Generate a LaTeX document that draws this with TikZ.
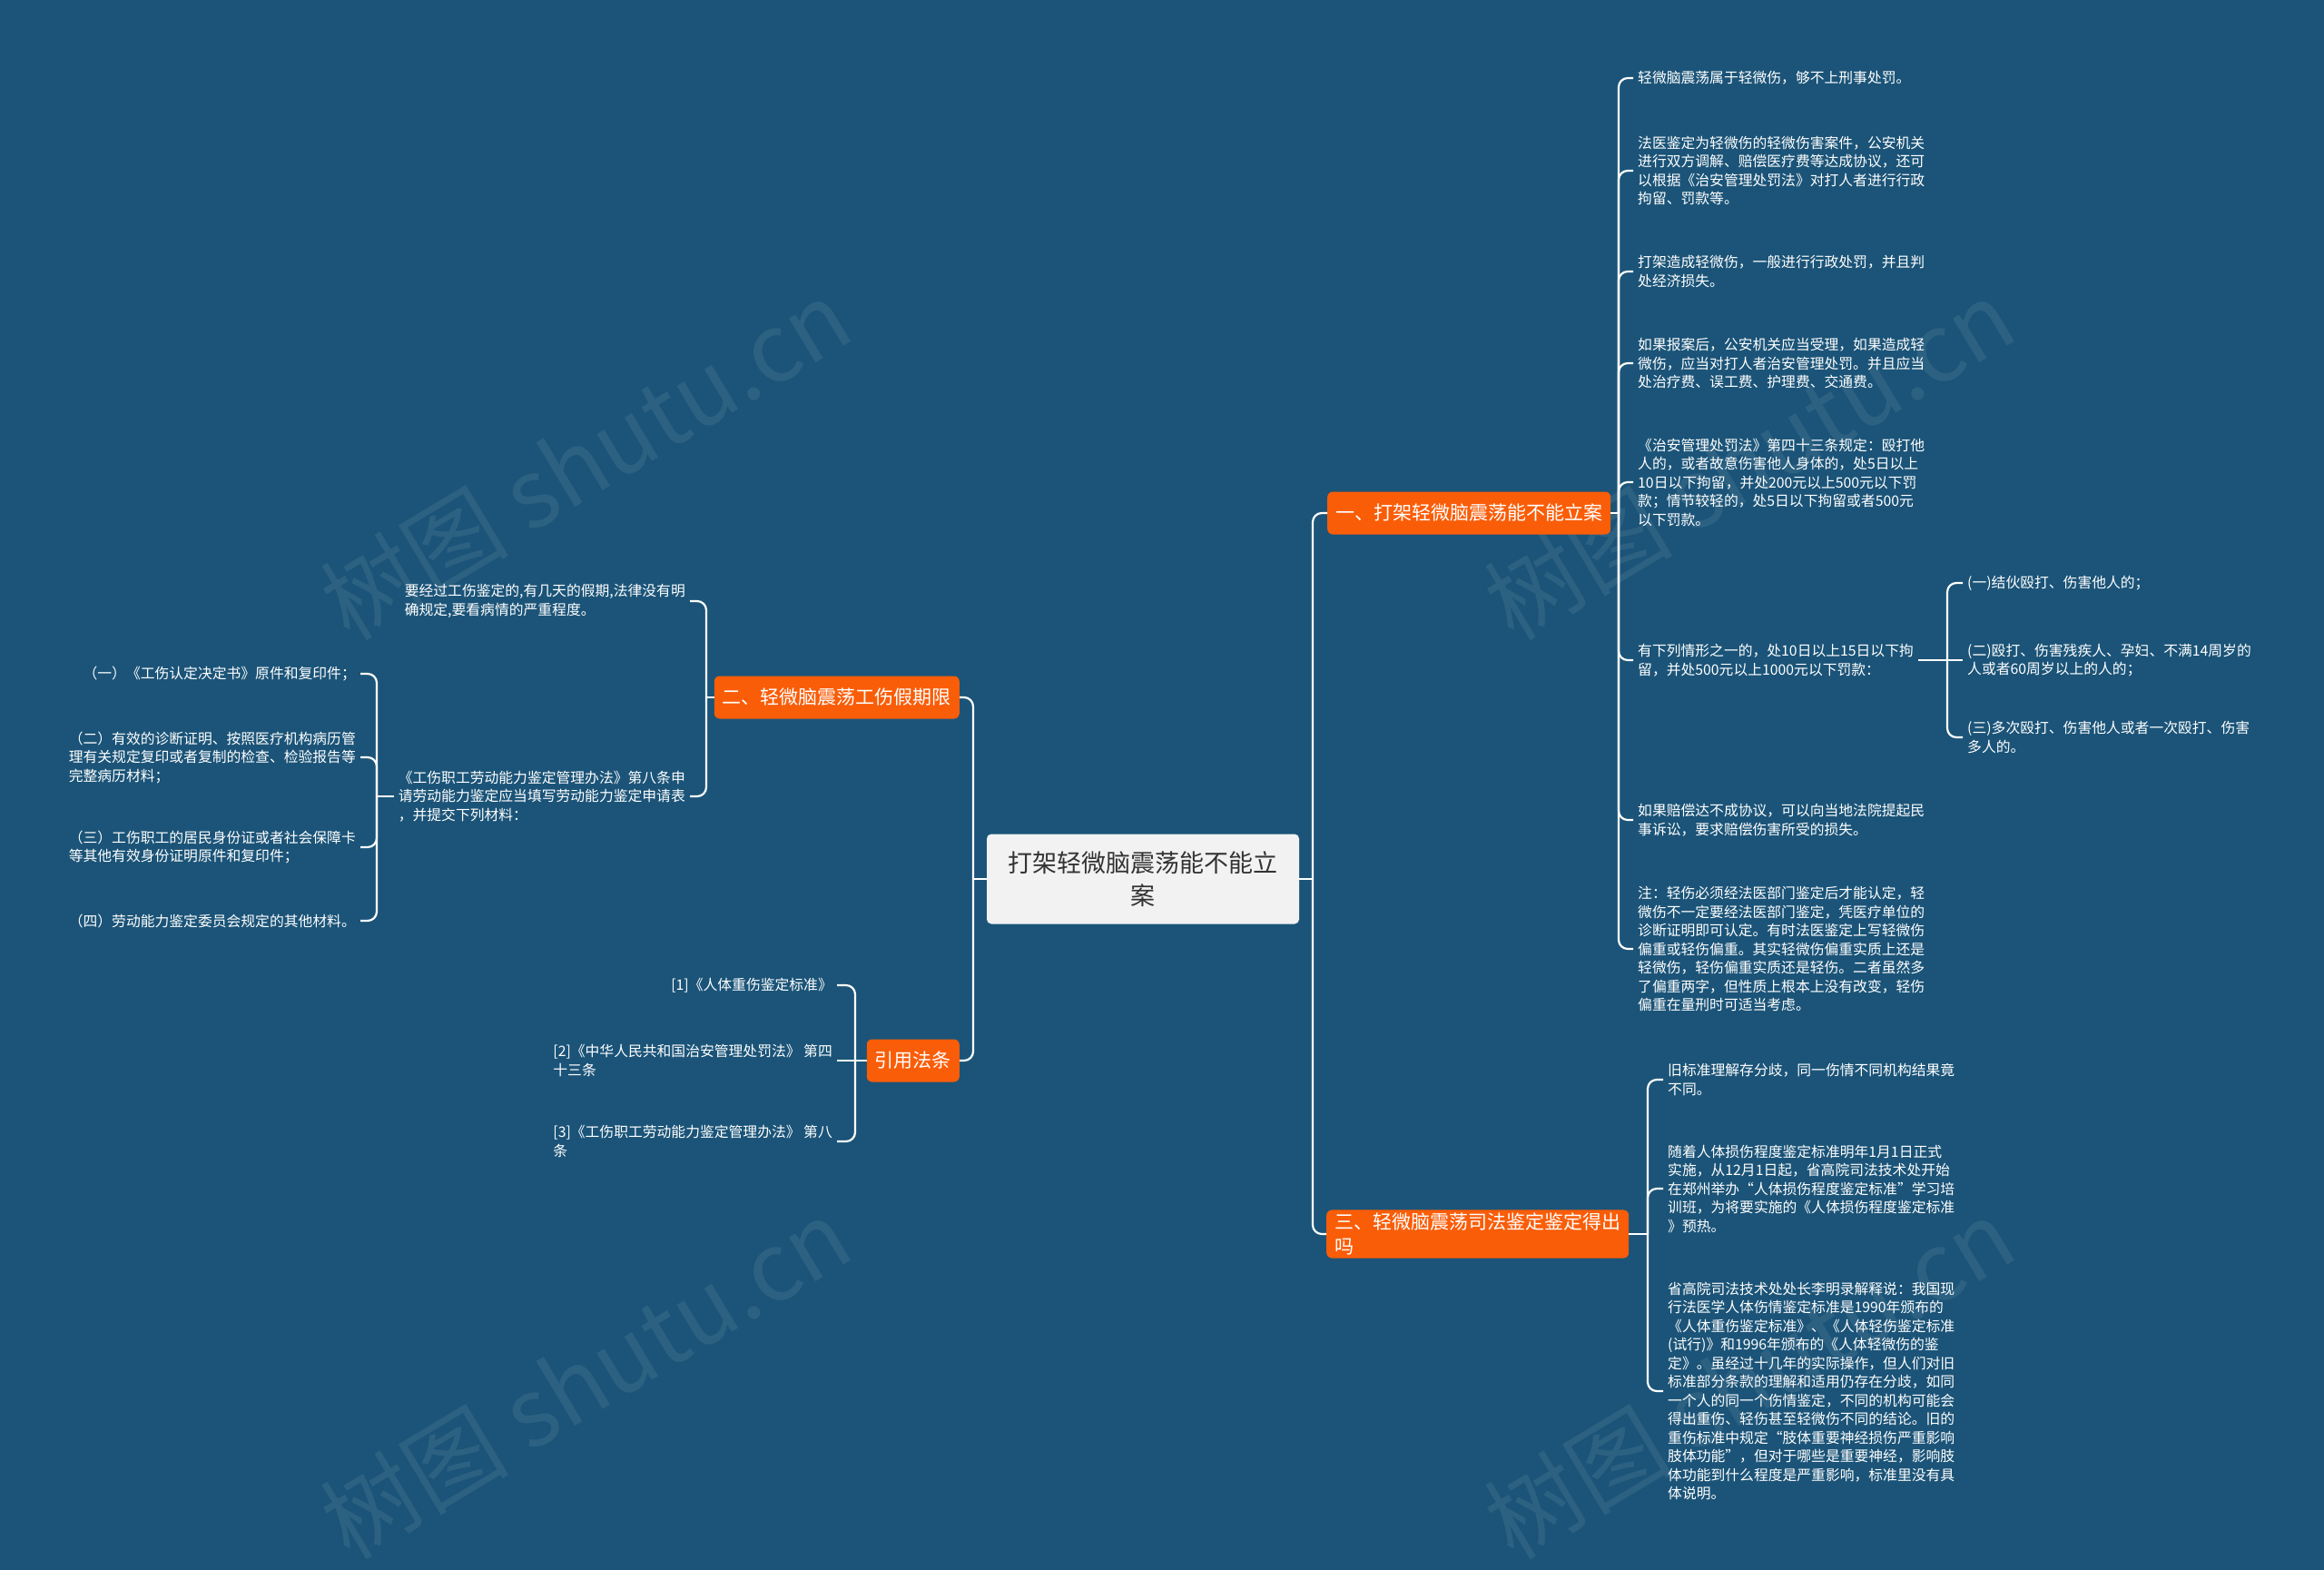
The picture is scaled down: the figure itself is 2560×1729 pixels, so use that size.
\documentclass[tikz,border=0pt]{standalone}
\usepackage{fontspec}
\setmainfont{Noto Sans CJK SC}
\usepackage{xcolor}
\usepackage{tikz}

\definecolor{bgblue}{RGB}{27,84,120}
\definecolor{branchorange}{RGB}{250,93,8}
\definecolor{rootgray}{RGB}{242,242,242}
\definecolor{textdark}{RGB}{51,51,51}

\begin{document}
\begin{tikzpicture}[
  x=1pt,y=-1pt,
  root/.style={fill=rootgray,rounded corners=5pt,align=center,text=textdark,minimum width=344pt,minimum height=99pt,font=\fontsize{27}{36}\selectfont},
  branch/.style={fill=branchorange,rounded corners=6pt,text=white,align=left,inner xsep=9pt,minimum height=47pt,font=\fontsize{21}{27}\selectfont},
  leaf/.style={text=white,align=left,inner xsep=5pt,inner ysep=2pt,font=\fontsize{15.8}{20.5}\selectfont},
  wire/.style={draw=white,line width=2.2pt,rounded corners=10pt},
  mark text/.style={rotate=31,text=white,opacity=0.08,font=\fontsize{104}{104}\selectfont}
]
\useasboundingbox[fill=bgblue] (0,0) rectangle (2560,1729);

% watermarks
\node[mark text] (wm1) at (645,506) {树图 shutu.cn};
\node[mark text] (wm2) at (1927,506) {树图 shutu.cn};
\node[mark text] (wm3) at (645,1518) {树图 shutu.cn};
\node[mark text] (wm4) at (1927,1518) {树图 shutu.cn};

% root and branches
\node[root] (root) at (1259,968) {打架轻微脑震荡能不能立\\案};
\node[branch,anchor=west] (br1) at (1462,565) {一、打架轻微脑震荡能不能立案};
\node[branch,anchor=east] (br2) at (1057,768) {二、轻微脑震荡工伤假期限};
\node[branch,anchor=west] (br3) at (1461,1359) {三、轻微脑震荡司法鉴定鉴定得出\\吗};
\node[branch,anchor=east] (br4) at (1057,1168) {引用法条};

% branch one
\node[leaf,anchor=west] (l1) at (1799,86) {轻微脑震荡属于轻微伤，够不上刑事处罚。};
\node[leaf,anchor=west] (l2) at (1799,188) {法医鉴定为轻微伤的轻微伤害案件，公安机关\\进行双方调解、赔偿医疗费等达成协议，还可\\以根据《治安管理处罚法》对打人者进行行政\\拘留、罚款等。};
\node[leaf,anchor=west] (l3) at (1799,299) {打架造成轻微伤，一般进行行政处罚，并且判\\处经济损失。};
\node[leaf,anchor=west] (l4) at (1799,400) {如果报案后，公安机关应当受理，如果造成轻\\微伤，应当对打人者治安管理处罚。并且应当\\处治疗费、误工费、护理费、交通费。};
\node[leaf,anchor=west] (l5) at (1799,531) {《治安管理处罚法》第四十三条规定：殴打他\\人的，或者故意伤害他人身体的，处5日以上\\10日以下拘留，并处200元以上500元以下罚\\款；情节较轻的，处5日以下拘留或者500元\\以下罚款。};
\node[leaf,anchor=west] (l6) at (1799,727) {有下列情形之一的，处10日以上15日以下拘\\留，并处500元以上1000元以下罚款：};
\node[leaf,anchor=west] (l7) at (1799,903) {如果赔偿达不成协议，可以向当地法院提起民\\事诉讼，要求赔偿伤害所受的损失。};
\node[leaf,anchor=west] (l8) at (1799,1045) {注：轻伤必须经法医部门鉴定后才能认定，轻\\微伤不一定要经法医部门鉴定，凭医疗单位的\\诊断证明即可认定。有时法医鉴定上写轻微伤\\偏重或轻伤偏重。其实轻微伤偏重实质上还是\\轻微伤，轻伤偏重实质还是轻伤。二者虽然多\\了偏重两字，但性质上根本上没有改变，轻伤\\偏重在量刑时可适当考虑。};
\node[leaf,anchor=west] (s1) at (2162,642) {(一)结伙殴打、伤害他人的；};
\node[leaf,anchor=west] (s2) at (2162,727) {(二)殴打、伤害残疾人、孕妇、不满14周岁的\\人或者60周岁以上的人的；};
\node[leaf,anchor=west] (s3) at (2162,812) {(三)多次殴打、伤害他人或者一次殴打、伤害\\多人的。};

% branch two
\node[leaf,anchor=east] (a1) at (760,662) {要经过工伤鉴定的,有几天的假期,法律没有明\\确规定,要看病情的严重程度。};
\node[leaf,anchor=east] (a2) at (760,877) {《工伤职工劳动能力鉴定管理办法》第八条申\\请劳动能力鉴定应当填写劳动能力鉴定申请表\\，并提交下列材料：};
\node[leaf,anchor=east] (m1) at (397,742) {（一）《工伤认定决定书》原件和复印件；};
\node[leaf,anchor=east] (m2) at (397,834) {（二）有效的诊断证明、按照医疗机构病历管\\理有关规定复印或者复制的检查、检验报告等\\完整病历材料；};
\node[leaf,anchor=east] (m3) at (397,933) {（三）工伤职工的居民身份证或者社会保障卡\\等其他有效身份证明原件和复印件；};
\node[leaf,anchor=east] (m4) at (397,1014) {（四）劳动能力鉴定委员会规定的其他材料。};

% branch three
\node[leaf,anchor=west] (t1) at (1832,1189) {旧标准理解存分歧，同一伤情不同机构结果竟\\不同。};
\node[leaf,anchor=west] (t2) at (1832,1309) {随着人体损伤程度鉴定标准明年1月1日正式\\实施，从12月1日起，省高院司法技术处开始\\在郑州举办“人体损伤程度鉴定标准”学习培\\训班，为将要实施的《人体损伤程度鉴定标准\\》预热。};
\node[leaf,anchor=west] (t3) at (1832,1532) {省高院司法技术处处长李明录解释说：我国现\\行法医学人体伤情鉴定标准是1990年颁布的\\《人体重伤鉴定标准》、《人体轻伤鉴定标准\\(试行)》和1996年颁布的《人体轻微伤的鉴\\定》。虽经过十几年的实际操作，但人们对旧\\标准部分条款的理解和适用仍存在分歧，如同\\一个人的同一个伤情鉴定，不同的机构可能会\\得出重伤、轻伤甚至轻微伤不同的结论。旧的\\重伤标准中规定“肢体重要神经损伤严重影响\\肢体功能”，但对于哪些是重要神经，影响肢\\体功能到什么程度是严重影响，标准里没有具\\体说明。};

% references
\node[leaf,anchor=east] (r1) at (922,1085) {[1]《人体重伤鉴定标准》};
\node[leaf,anchor=east] (r2) at (922,1168) {[2]《中华人民共和国治安管理处罚法》 第四\\十三条};
\node[leaf,anchor=east] (r3) at (922,1257) {[3]《工伤职工劳动能力鉴定管理办法》 第八\\条};

% junctions
\coordinate (jl) at (1072,968);
\coordinate (jr) at (1446,968);
\coordinate (j1) at (1783,565);
\coordinate (j6) at (2145,727);
\coordinate (j2) at (778,768);
\coordinate (ja) at (415,877);
\coordinate (j3) at (1815,1359);
\coordinate (j4) at (942,1168);

% connectors
\draw[wire] (root.west) -- (jl);
\draw[wire] (jl) |- (br2.east);
\draw[wire] (jl) |- (br4.east);
\draw[wire] (root.east) -- (jr);
\draw[wire] (jr) |- (br1.west);
\draw[wire] (jr) |- (br3.west);

\draw[wire] (br1.east) -- (j1);
\foreach \leafname in {l1,l2,l3,l4,l5,l6,l7,l8}
  \draw[wire] (j1) |- (\leafname.west);
\draw[wire] (l6.east) -- (j6);
\draw[wire] (j6) |- (s1.west);
\draw[wire] (j6) -- (s2.west);
\draw[wire] (j6) |- (s3.west);

\draw[wire] (br2.west) -- (j2);
\draw[wire] (j2) |- (a1.east);
\draw[wire] (j2) |- (a2.east);
\draw[wire] (a2.west) -- (ja);
\foreach \leafname in {m1,m2,m3,m4}
  \draw[wire] (ja) |- (\leafname.east);

\draw[wire] (br3.east) -- (j3);
\foreach \leafname in {t1,t2,t3}
  \draw[wire] (j3) |- (\leafname.west);

\draw[wire] (br4.west) -- (j4);
\draw[wire] (j4) |- (r1.east);
\draw[wire] (j4) -- (r2.east);
\draw[wire] (j4) |- (r3.east);
\end{tikzpicture}
\end{document}
